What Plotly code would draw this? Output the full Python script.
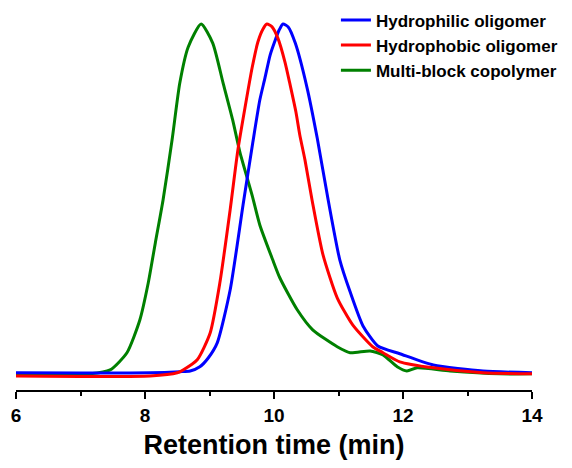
import plotly.graph_objects as go

# Retention time (min) and normalized detector intensity
t_hydrophilic = [6.00, 8.08, 8.54, 8.70, 8.85, 8.98, 9.12, 9.32, 9.52, 9.67, 9.78, 9.86, 9.94,
                 10.02, 10.08, 10.14, 10.22, 10.33, 10.51, 10.67, 10.84, 11.02, 11.18, 11.38,
                 11.61, 11.95, 12.47, 13.24, 14.00]
i_hydrophilic = [0.006, 0.006, 0.009, 0.011, 0.023, 0.048, 0.091, 0.241, 0.483, 0.659, 0.781,
                 0.844, 0.909, 0.952, 0.980, 0.997, 0.989, 0.943, 0.818, 0.673, 0.497, 0.327,
                 0.236, 0.139, 0.082, 0.060, 0.028, 0.011, 0.006]

t_hydrophobic = [6.00, 8.08, 8.50, 8.59, 8.81, 9.01, 9.16, 9.32, 9.44, 9.55, 9.66, 9.75, 9.83,
                 9.89, 9.97, 10.06, 10.17, 10.25, 10.34, 10.40, 10.48, 10.59, 10.76, 10.98,
                 11.22, 11.53, 11.69, 11.95, 12.47, 13.24, 14.00]
i_hydrophobic = [-0.003, -0.003, 0.006, 0.014, 0.043, 0.119, 0.261, 0.469, 0.639, 0.759, 0.872,
                 0.946, 0.983, 0.997, 0.989, 0.957, 0.889, 0.824, 0.747, 0.682, 0.611, 0.497,
                 0.341, 0.219, 0.142, 0.080, 0.063, 0.037, 0.020, 0.006, 0.003]

t_copolymer = [6.00, 7.15, 7.46, 7.72, 7.92, 8.05, 8.16, 8.28, 8.42, 8.54, 8.67, 8.87, 9.05,
               9.21, 9.36, 9.47, 9.66, 9.78, 9.98, 10.09, 10.36, 10.60, 10.98, 11.18, 11.49,
               11.69, 11.91, 12.06, 12.22, 12.73, 13.50, 14.00]
i_copolymer = [0.003, 0.003, 0.014, 0.063, 0.156, 0.261, 0.375, 0.497, 0.668, 0.830, 0.932,
               0.997, 0.943, 0.830, 0.724, 0.634, 0.511, 0.426, 0.327, 0.276, 0.185, 0.128,
               0.080, 0.063, 0.068, 0.057, 0.023, 0.011, 0.020, 0.011, 0.003, 0.003]

x_ticks = [6, 8, 10, 12, 14]

FONT = "Arial, Liberation Sans, sans-serif"
LW = 3

fig = go.Figure()
fig.add_trace(go.Scatter(x=t_copolymer, y=i_copolymer, mode="lines", name="Multi-block copolymer",
                         line=dict(color="#008000", width=LW, shape="spline", smoothing=0.6),
                         legendrank=3))
fig.add_trace(go.Scatter(x=t_hydrophilic, y=i_hydrophilic, mode="lines", name="Hydrophilic oligomer",
                         line=dict(color="#0000FF", width=LW, shape="spline", smoothing=0.6),
                         legendrank=1))
fig.add_trace(go.Scatter(x=t_hydrophobic, y=i_hydrophobic, mode="lines", name="Hydrophobic oligomer",
                         line=dict(color="#FF0000", width=LW, shape="spline", smoothing=0.6),
                         legendrank=2))

fig.update_layout(
    width=564, height=460,
    margin=dict(l=8, r=40, t=2, b=78, autoexpand=False),
    paper_bgcolor="white", plot_bgcolor="white",
    font=dict(family=FONT, color="black"),
    showlegend=True,
    legend=dict(x=0.62, y=1.02, xanchor="left", yanchor="top",
                font=dict(family=FONT, size=17, weight="bold", color="black"),
                bgcolor="rgba(0,0,0,0)", tracegroupgap=0),
    xaxis=dict(range=[6, 14], tickvals=x_ticks, ticktext=[str(v) for v in x_ticks],
               ticks="outside", ticklen=7, tickwidth=2, tickcolor="black",
               minor=dict(dtick=1, ticks="outside", ticklen=4, tickwidth=2, tickcolor="black"),
               showline=True, linewidth=2, linecolor="black", showgrid=False, zeroline=False,
               automargin=False,
               tickfont=dict(family=FONT, size=19, weight="bold"),
               title=dict(text="Retention time (min)", standoff=10,
                          font=dict(family=FONT, size=27, weight="bold"))),
    yaxis=dict(visible=False, range=[-0.043, 1.037], fixedrange=True),
)

fig.write_html("out.html")
